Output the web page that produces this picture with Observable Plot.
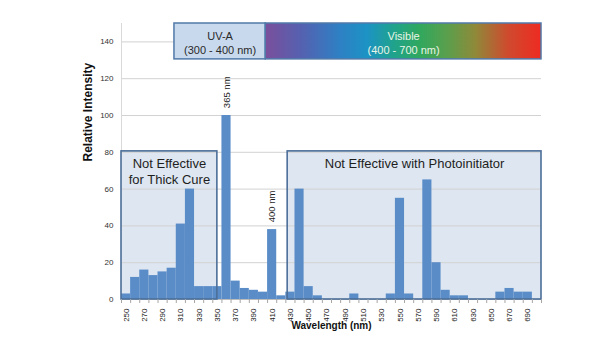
<!DOCTYPE html>
<html>
<head>
<meta charset="utf-8">
<script src="https://cdn.jsdelivr.net/npm/d3@7"></script>
<script src="https://cdn.jsdelivr.net/npm/@observablehq/plot@0.6"></script>
<style>
  html, body { margin: 0; padding: 0; background: #fff; }
  #chart svg { display: block; }
</style>
</head>
<body>
<div id="chart"></div>
<script>
// ---- data ----
const wavelengths = [250,260,270,280,290,300,310,320,330,340,350,360,370,380,390,400,410,420,430,440,450,460,470,480,490,500,510,520,530,540,550,560,570,580,590,600,610,620,630,640,650,660,670,680,690,700];
const intensity   = [3,12,16,13,15,17,41,60,7,7,7,100,10,6,5,4,38,2,4,60,7,2,0,0,0,3,0,0,0,3,55,3,0,65,20,5,2,2,0,0,0,4,6,4,4,0];
const xTickLabels = [250,270,290,310,330,350,370,390,410,430,450,470,490,510,530,550,570,590,610,630,650,670,690];
const yTicks = [0,20,40,60,80,100,120,140];
const binEdges = [245,255,265,275,285,295,305,315,325,335,345,355,365,375,385,395,405,415,425,435,445,455,465,475,485,495,505,515,525,535,545,555,565,575,585,595,605,615,625,635,645,655,665,675,685,695,705];

const ineffectiveRegions = [
  {from: 245, to: 350, top: 80.5, lines: ["Not Effective", "for Thick Cure"]},
  {from: 427, to: 705, top: 80.5, lines: ["Not Effective with Photoinitiator"]}
];
const spectrumBands = [
  {name: "UV-A", range: "(300 - 400 nm)", from: 303, to: 403},
  {name: "Visible", range: "(400 - 700 nm)", from: 403, to: 705}
];
const peakLabels = [
  {label: "365 nm", w: 360, v: 100},
  {label: "400 nm", w: 410, v: 38}
];

const bars = wavelengths.map((w, i) => ({w, v: intensity[i]}));
const font = "Liberation Sans, Arial, sans-serif";

const boxText = ineffectiveRegions.flatMap(r => r.lines.map((t, j) => ({t, x: (r.from + r.to) / 2, y: 74 - j * 9.2})));

const chart = Plot.plot({
  width: 615,
  height: 350,
  marginLeft: 121,
  marginRight: 74,
  marginTop: 23,
  marginBottom: 51,
  style: {fontFamily: font, background: "#fff", overflow: "visible"},
  x: {type: "linear", domain: [245, 705]},
  y: {domain: [0, 150]},
  marks: [
    // region boxes (fill)
    Plot.rect(ineffectiveRegions, {x1: "from", x2: "to", y1: 0, y2: "top", fill: "#dde6f1"}),
    // gridlines
    Plot.ruleY(yTicks.slice(1), {stroke: "#d2d2d2", strokeWidth: 1}),
    Plot.ruleX([245], {y1: 0, y2: 150, stroke: "#d9d9d9"}),
    // bars
    Plot.rectY(bars, {x1: d => d.w - 5, x2: d => d.w + 5, y: "v", fill: "#5a8dc8"}),
    // baseline
    Plot.ruleY([0], {stroke: "#bdbdbd", strokeWidth: 1}),
    // region boxes (stroke)
    Plot.rect(ineffectiveRegions, {x1: "from", x2: "to", y1: 0, y2: "top", fill: "none", stroke: "#4c6f99", strokeWidth: 1.6}),
    Plot.text(boxText, {x: "x", y: "y", text: "t", fontSize: 13, fill: "#1e1e1e", fontFamily: font}),
    // spectrum bands
    Plot.rect(spectrumBands.slice(0, 1), {x1: "from", x2: "to", y1: 130.5, y2: 150, fill: "#c8d9ed", stroke: "#5079a9", strokeWidth: 1.5}),
    Plot.rect(spectrumBands.slice(1), {x1: "from", x2: "to", y1: 130.5, y2: 150, fill: "url(#visGrad)", stroke: "#5079a9", strokeWidth: 1.5}),
    Plot.text(spectrumBands, {x: d => (d.from + d.to) / 2, y: 143.2, text: "name", fontSize: 11, fill: (d, i) => i === 0 ? "#2a2a2a" : "#e9f5e6", fontFamily: font}),
    Plot.text(spectrumBands, {x: d => (d.from + d.to) / 2, y: 135.2, text: "range", fontSize: 11, fill: (d, i) => i === 0 ? "#2a2a2a" : "#e9f5e6", fontFamily: font}),
    // peak labels
    Plot.text(peakLabels, {x: "w", y: d => d.v + 4, text: "label", rotate: -90, textAnchor: "start", fontSize: 9.5, fill: "#1e1e1e", fontFamily: font}),
    // axes
    Plot.axisY({ticks: yTicks, tickSize: 0, tickPadding: 8, fontSize: 8, label: null, color: "#333"}),
    Plot.axisX({ticks: binEdges, tickSize: 4, tickFormat: () => "", label: null, stroke: "#a6a6a6"}),
    Plot.axisX({ticks: xTickLabels, tickSize: 0, tickPadding: 9, tickRotate: -90, fontSize: 8, label: null, color: "#222"}),
    Plot.text(["Wavelength (nm)"], {frameAnchor: "bottom", dy: 29.5, text: d => d, fontSize: 10, fontWeight: "bold", fill: "#111", fontFamily: font}),
    Plot.text(["Relative Intensity"], {frameAnchor: "left", dx: -33, rotate: -90, text: d => d, fontSize: 12, fontWeight: "bold", fill: "#111", fontFamily: font})
  ]
});

// gradient definition for the visible band
const svg = d3.select(chart);
const defs = svg.insert("defs", ":first-child");
const grad = defs.append("linearGradient").attr("id", "visGrad").attr("x1", "0%").attr("x2", "100%").attr("y1", "0%").attr("y2", "0%");
[["0%", "#7a4f9c"], ["13%", "#5561b0"], ["27%", "#2e80c4"], ["37%", "#1c93c4"], ["47%", "#20a38a"], ["56%", "#30a85e"], ["66%", "#5a9f4c"], ["76%", "#8e8a3a"], ["88%", "#cf4a2e"], ["100%", "#ee2b23"]]
  .forEach(([o, c]) => grad.append("stop").attr("offset", o).attr("stop-color", c));

document.getElementById("chart").appendChild(chart);
</script>
</body>
</html>
